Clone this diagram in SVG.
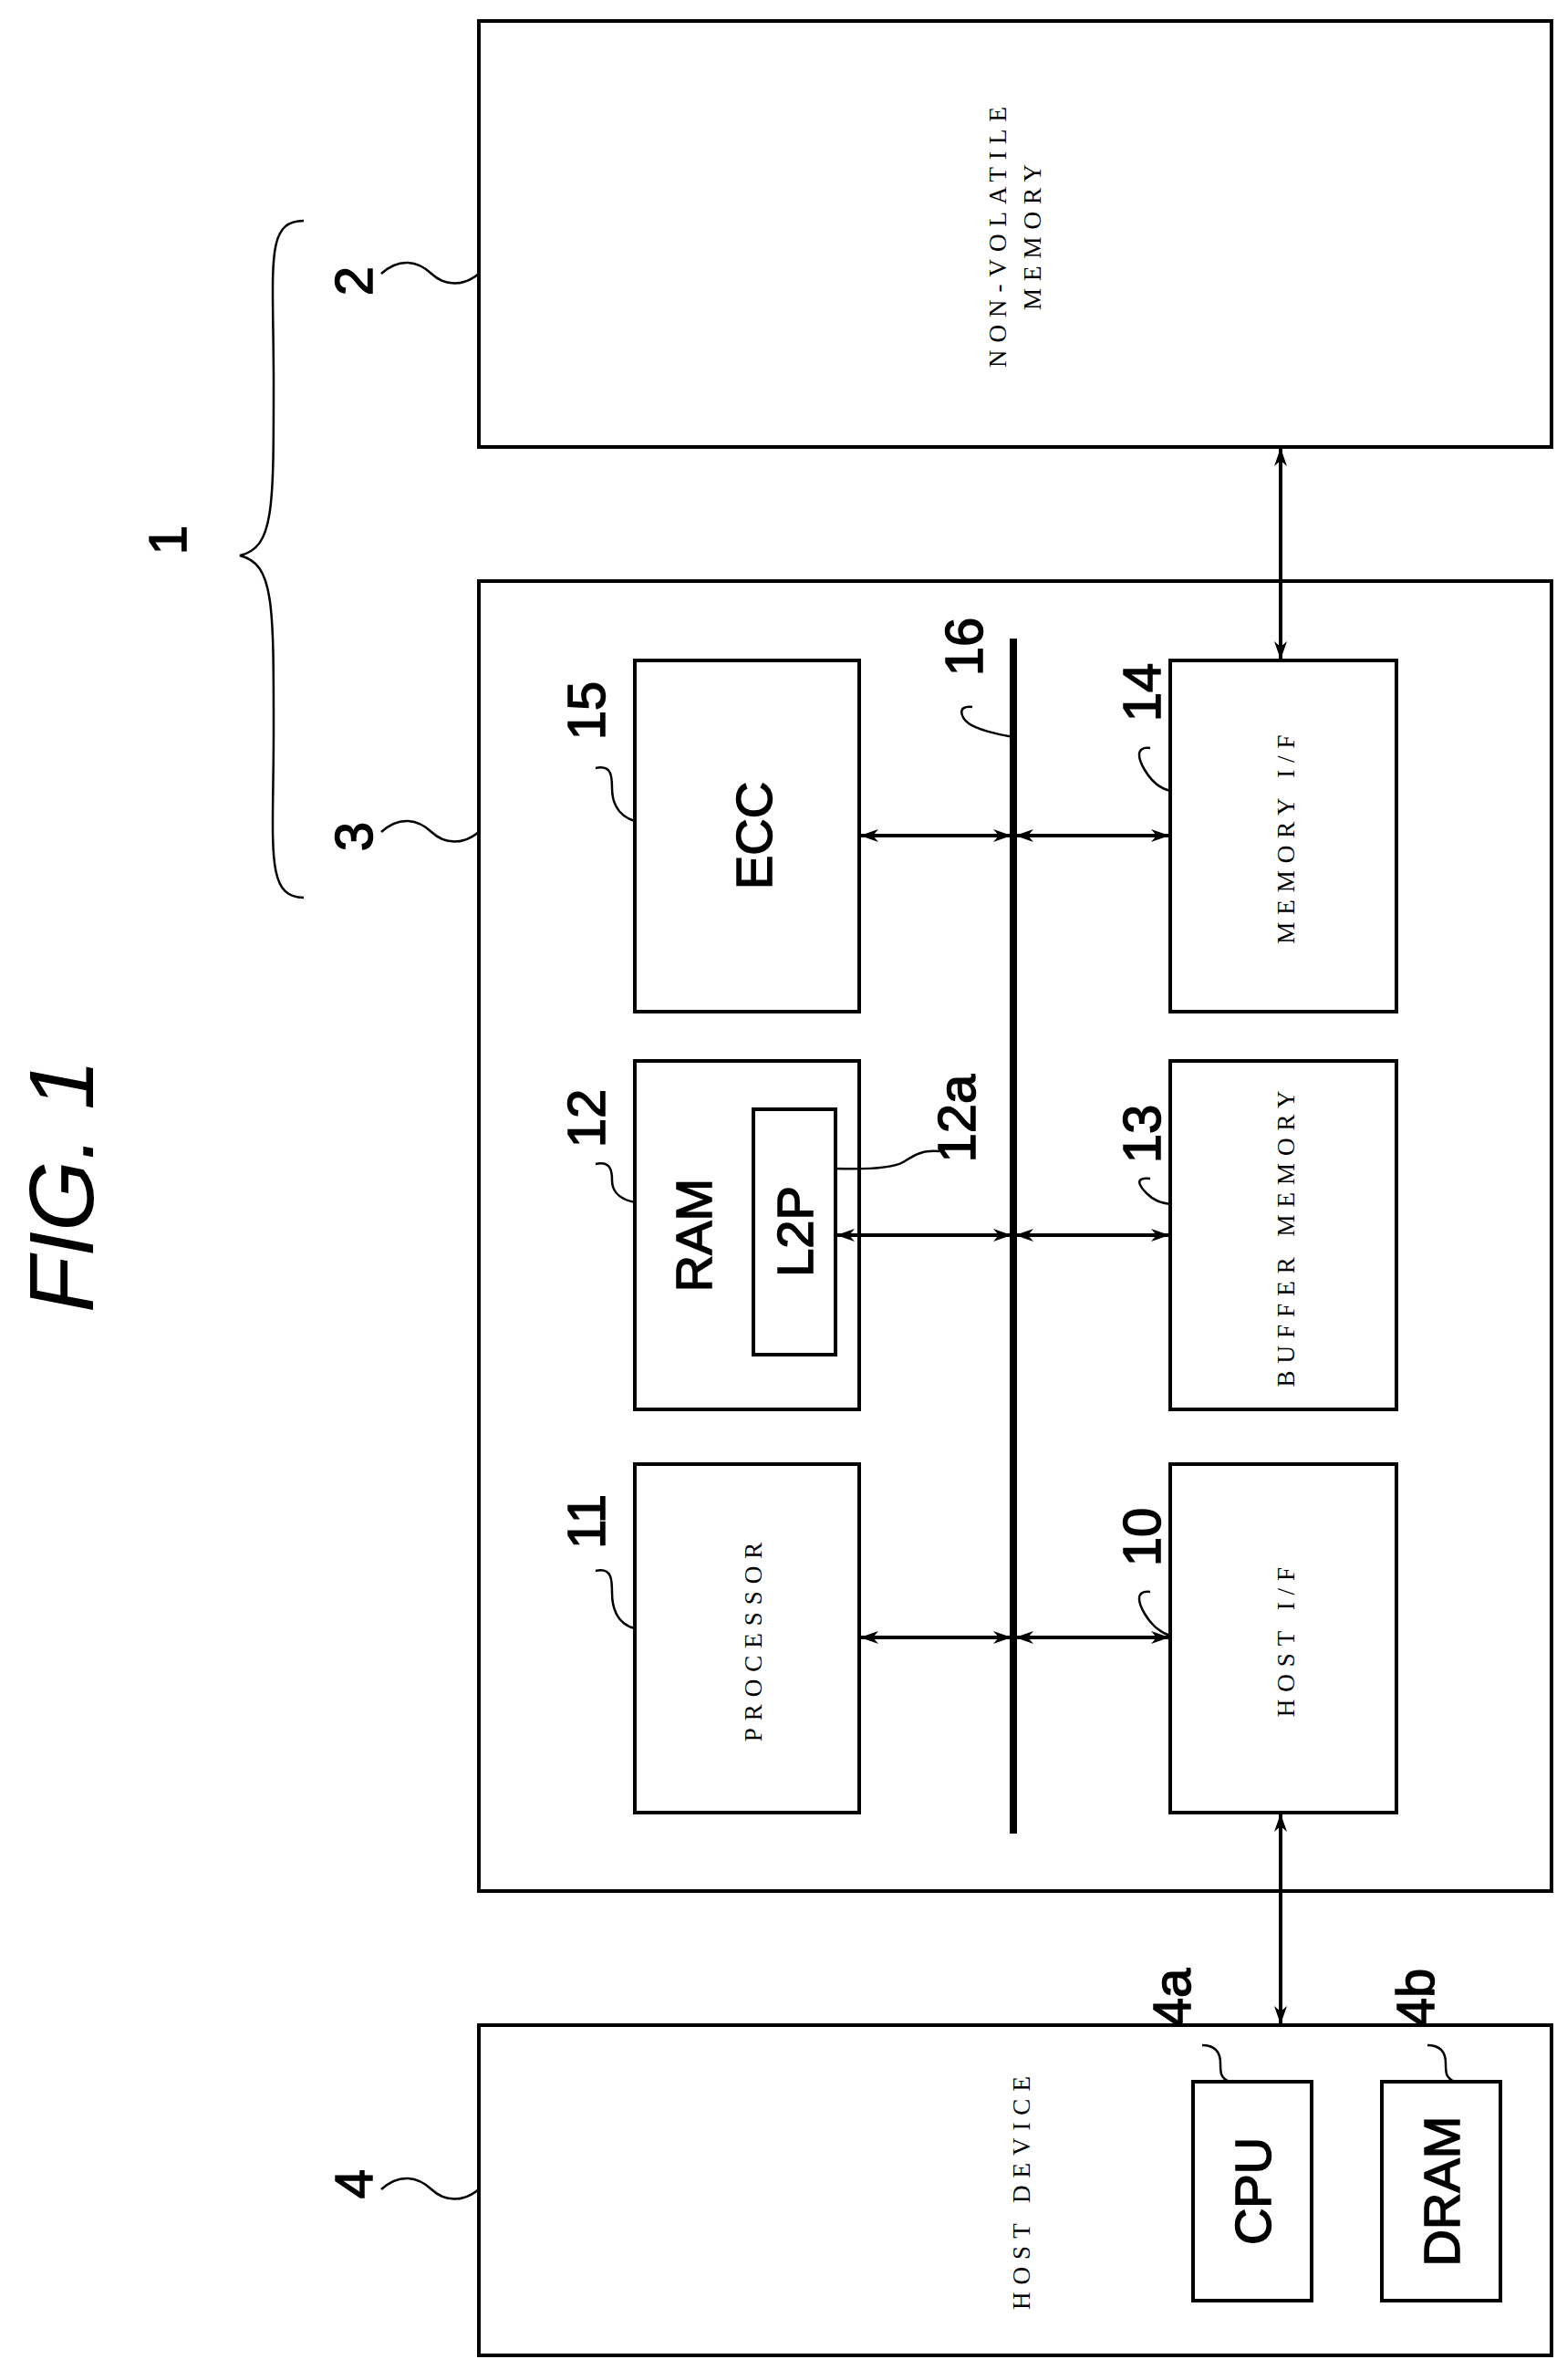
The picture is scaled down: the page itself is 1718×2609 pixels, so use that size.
<svg xmlns="http://www.w3.org/2000/svg" width="1718" height="2609" viewBox="0 0 1718 2609">
<style>
.box{fill:none;stroke:#000;stroke-width:4}
.ln{fill:none;stroke:#000;stroke-width:2.5}
.ar{fill:none;stroke:#000;stroke-width:4}
.lbl{font-family:"Liberation Sans",Arial,sans-serif;font-size:58px;fill:#000;stroke:#000;stroke-width:1.5;text-anchor:middle;dominant-baseline:central}
.big{font-family:"Liberation Sans",Arial,sans-serif;font-size:56px;fill:#000;stroke:#000;stroke-width:1.5;text-anchor:middle;dominant-baseline:central}
.sm{font-family:"Liberation Serif","Times New Roman",serif;font-size:27px;letter-spacing:8px;fill:#000;text-anchor:middle;dominant-baseline:central}
</style>
<defs>
<marker id="ah" viewBox="0 0 20 14" refX="19" refY="7" markerWidth="20" markerHeight="14" markerUnits="userSpaceOnUse" orient="auto-start-reverse">
<path d="M0,0 L20,7 L0,14 L6,7 Z" fill="#000"/>
</marker>
</defs>
<text class="lbl" font-style="italic" transform="translate(67,1300) rotate(-90)" style="font-size:100px;stroke-width:0">FIG. 1</text>
<g id="n1"><path class="ln" d="M333,242 C290,242 300,290 300,420 C300,560 300,600 263,609 C300,618 300,660 300,800 C300,930 290,984 333,984"/><text class="lbl" transform="translate(183,592) rotate(-90)">1</text></g>
<g id="n2"><rect class="box" x="525" y="23" width="1176" height="467"/><text class="sm" transform="translate(1094,256) rotate(-90)">NON-VOLATILE</text><text class="sm" transform="translate(1132,256) rotate(-90)">MEMORY</text><text class="lbl" transform="translate(387,308) rotate(-90)">2</text><path class="ln" d="M418,300 c20,-18 40,-14 55,0 s35,14 52,0"/></g>
<g id="n3"><rect class="box" x="525" y="637" width="1176" height="1436"/><text class="lbl" transform="translate(387,917) rotate(-90)">3</text><path class="ln" d="M418,912 c20,-18 40,-14 55,0 s35,14 52,0"/></g>
<g id="n4"><rect class="box" x="525" y="2220" width="1176" height="362"/><text class="sm" transform="translate(1120,2400) rotate(-90)">HOST DEVICE</text><text class="lbl" transform="translate(387,2394) rotate(-90)">4</text><path class="ln" d="M418,2400 c20,-18 40,-14 55,0 s35,14 52,0"/></g>
<g id="n4a"><rect class="box" x="1308" y="2282" width="130" height="240"/><text class="big" transform="translate(1373,2402) rotate(-90)">CPU</text><text class="lbl" transform="translate(1284,2190) rotate(-90)">4a</text><path class="ln" d="M1318,2242 c16,0 20,10 20,20 s0,16 10,20"/></g>
<g id="n4b"><rect class="box" x="1515" y="2282" width="130" height="240"/><text class="big" transform="translate(1580,2402) rotate(-90)">DRAM</text><text class="lbl" transform="translate(1551,2190) rotate(-90)">4b</text><path class="ln" d="M1565,2242 c16,0 20,10 20,20 s0,16 10,20"/></g>
<g id="n15"><rect class="box" x="696" y="724" width="246" height="385"/><text class="big" transform="translate(826,916) rotate(-90)">ECC</text><text class="lbl" transform="translate(642,779) rotate(-90)">15</text><path class="ln" d="M653,842 c18,-4 18,10 18,22 s4,30 25,36"/></g>
<g id="n12"><rect class="box" x="696" y="1163" width="246" height="382"/><text class="big" transform="translate(760,1354) rotate(-90)">RAM</text><text class="lbl" transform="translate(642,1226) rotate(-90)">12</text><path class="ln" d="M653,1276 c18,-4 18,10 18,18 s4,20 25,24"/></g>
<g id="n12a"><rect class="box" x="826" y="1216" width="90" height="269"/><text class="big" transform="translate(871,1350) rotate(-90)">L2P</text><text class="lbl" transform="translate(1048,1226) rotate(-90)">12a</text><path class="ln" d="M1030,1262 c-20,-2 -30,6 -40,12 s-40,8 -74,7"/></g>
<g id="n11"><rect class="box" x="696" y="1605" width="246" height="382"/><text class="sm" transform="translate(826,1796) rotate(-90)">PROCESSOR</text><text class="lbl" transform="translate(642,1668) rotate(-90)">11</text><path class="ln" d="M653,1722 c18,-4 18,10 18,24 s4,34 25,39"/></g>
<g id="n14"><rect class="box" x="1283" y="724" width="248" height="385"/><text class="sm" transform="translate(1410,916) rotate(-90)">MEMORY I/F</text><text class="lbl" transform="translate(1251,759) rotate(-90)">14</text><path class="ln" d="M1261,820 c-18,-2 -12,14 -6,24 s14,20 28,23"/></g>
<g id="n13"><rect class="box" x="1283" y="1163" width="248" height="382"/><text class="sm" transform="translate(1410,1354) rotate(-90)">BUFFER MEMORY</text><text class="lbl" transform="translate(1251,1243) rotate(-90)">13</text><path class="ln" d="M1261,1292 c-18,-2 -12,8 -4,16 s14,10 26,12"/></g>
<g id="n10"><rect class="box" x="1283" y="1605" width="248" height="382"/><text class="sm" transform="translate(1410,1796) rotate(-90)">HOST I/F</text><text class="lbl" transform="translate(1251,1685) rotate(-90)">10</text><path class="ln" d="M1261,1745 c-18,-2 -12,14 -6,24 s14,20 28,24"/></g>
<g id="n16"><line x1="1111" y1="700" x2="1111" y2="2010" stroke="#000" stroke-width="8"/><text class="lbl" transform="translate(1056,709) rotate(-90)">16</text><path class="ln" d="M1066,775 c-18,-2 -12,12 -4,18 s30,12 49,15"/></g>
<g id="connectors">
<line class="ar" x1="944" y1="916" x2="1108" y2="916" marker-start="url(#ah)" marker-end="url(#ah)"/>
<line class="ar" x1="1114" y1="916" x2="1281" y2="916" marker-start="url(#ah)" marker-end="url(#ah)"/>
<line class="ar" x1="918" y1="1354" x2="1108" y2="1354" marker-start="url(#ah)" marker-end="url(#ah)"/>
<line class="ar" x1="1114" y1="1354" x2="1281" y2="1354" marker-start="url(#ah)" marker-end="url(#ah)"/>
<line class="ar" x1="944" y1="1795" x2="1108" y2="1795" marker-start="url(#ah)" marker-end="url(#ah)"/>
<line class="ar" x1="1114" y1="1795" x2="1281" y2="1795" marker-start="url(#ah)" marker-end="url(#ah)"/>
<line class="ar" x1="1404" y1="492" x2="1404" y2="722" marker-start="url(#ah)" marker-end="url(#ah)"/>
<line class="ar" x1="1404" y1="1989" x2="1404" y2="2218" marker-start="url(#ah)" marker-end="url(#ah)"/>
</g>
</svg>
